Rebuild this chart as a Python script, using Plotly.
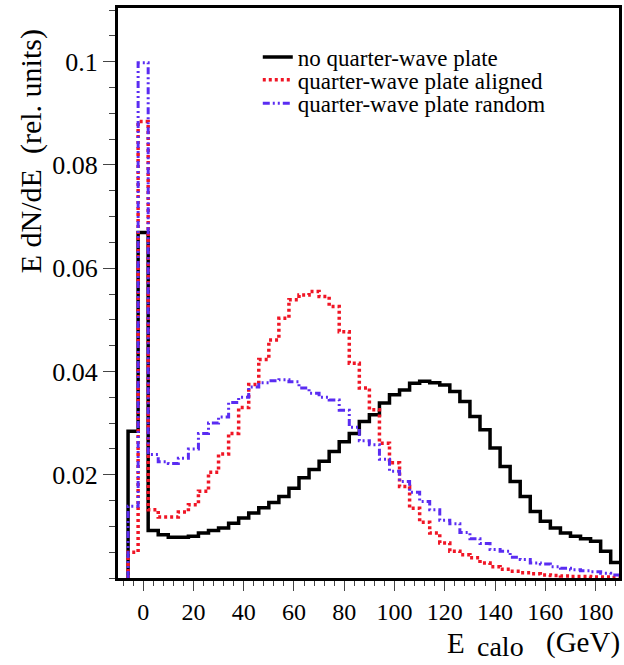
import plotly.graph_objects as go

# bin edges (GeV), 4 GeV wide bins from -6 to 190
bin_edges = list(range(-6, 191, 4))

no_plate = [0.0284, 0.0669, 0.0092, 0.0084, 0.0079, 0.0079, 0.0081, 0.0087, 0.0092, 0.0097,
            0.0106, 0.0116, 0.0126, 0.0136, 0.0146, 0.0158, 0.0174, 0.0194, 0.0210, 0.0226,
            0.0245, 0.0264, 0.0280, 0.0303, 0.0316, 0.0339, 0.0355, 0.0364, 0.0377, 0.0381,
            0.0378, 0.0374, 0.0361, 0.0342, 0.0313, 0.0287, 0.0252, 0.0216, 0.0187, 0.0158,
            0.0129, 0.0110, 0.0097, 0.0087, 0.0081, 0.0076, 0.0071, 0.0052, 0.0030]

plate_aligned = [0.0050, 0.0884, 0.0132, 0.0118, 0.0118, 0.0128, 0.0142, 0.0168, 0.0205, 0.0240,
                 0.0280, 0.0330, 0.0375, 0.0423, 0.0461, 0.0503, 0.0539, 0.0548, 0.0555, 0.0545,
                 0.0526, 0.0477, 0.0416, 0.0368, 0.0326, 0.0261, 0.0223, 0.0177, 0.0135, 0.0108,
                 0.0087, 0.0068, 0.0052, 0.0045, 0.0039, 0.0029, 0.0022, 0.0017, 0.0013, 0.0010,
                 0.0008, 0.0006, 0.0005, 0.0004, 0.0003, 0.0003, 0.0002, 0.0002, 0.0001]

plate_random = [0.0139, 0.0998, 0.0239, 0.0225, 0.0222, 0.0232, 0.0250, 0.0280, 0.0300, 0.0312,
                0.0340, 0.0350, 0.0370, 0.0378, 0.0382, 0.0384, 0.0380, 0.0368, 0.0358, 0.0350,
                0.0345, 0.0325, 0.0292, 0.0266, 0.0258, 0.0230, 0.0207, 0.0187, 0.0166, 0.0148,
                0.0132, 0.0112, 0.0105, 0.0088, 0.0076, 0.0067, 0.0055, 0.0052, 0.0040, 0.0036,
                0.0029, 0.0027, 0.0022, 0.0019, 0.0016, 0.0014, 0.0012, 0.0009, 0.0006]

series_names = ["no quarter-wave plate", "quarter-wave plate aligned", "quarter-wave plate random"]
x_tick_vals = [0, 20, 40, 60, 80, 100, 120, 140, 160, 180]
y_tick_vals = [0.02, 0.04, 0.06, 0.08, 0.1]
y_tick_text = ["0.02", "0.04", "0.06", "0.08", "0.1"]

FONT = "Liberation Serif"


def step_xy(vals):
    xs = [bin_edges[0]] + bin_edges
    ys = [0] + list(vals) + [vals[-1]]
    return xs, ys


fig = go.Figure()
styles = [
    dict(color="black", width=3.5, dash="solid"),
    dict(color="#f01525", width=3.5, dash="3px,3px"),
    dict(color="#5a2cf2", width=3, dash="7px,3px,2px,3px,2px,3px"),
]
legend_ids = ["legend", "legend2", "legend3"]
for name, vals, st, lg in zip(series_names, [no_plate, plate_aligned, plate_random], styles, legend_ids):
    xs, ys = step_xy(vals)
    fig.add_trace(go.Scatter(x=xs, y=ys, mode="lines", name=name, legend=lg,
                             line=dict(shape="hv", **st)))

row_y = [0.914, 0.874, 0.833]
leg_common = dict(x=0.279, xanchor="left", yanchor="middle", bgcolor="rgba(0,0,0,0)",
                  font=dict(size=23, family=FONT), itemwidth=30)

fig.update_layout(
    width=624, height=665,
    margin=dict(l=118, r=2, t=8, b=87),
    paper_bgcolor="white", plot_bgcolor="white",
    font=dict(family=FONT, color="black", size=22),
    showlegend=True,
    legend=dict(y=row_y[0], **leg_common),
    legend2=dict(y=row_y[1], **leg_common),
    legend3=dict(y=row_y[2], **leg_common),
    xaxis=dict(range=[-10, 189.3], showgrid=False, zeroline=False,
               showline=True, linecolor="black", linewidth=3, mirror=True,
               ticks="outside", ticklen=10, tickwidth=1, tickcolor="#444",
               tickvals=x_tick_vals, tickfont=dict(size=24, family=FONT),
               minor=dict(dtick=4, tick0=0, ticks="outside", ticklen=5, tickcolor="#444")),
    yaxis=dict(range=[0, 0.1104], showgrid=False, zeroline=False,
               showline=True, linecolor="black", linewidth=3, mirror=True,
               ticks="outside", ticklen=12, tickwidth=1, tickcolor="#444",
               tickvals=y_tick_vals, ticktext=y_tick_text,
               tickfont=dict(size=26, family=FONT),
               minor=dict(dtick=0.005, tick0=0, ticks="outside", ticklen=6, tickcolor="#444")),
    annotations=[
        dict(text="E", xref="paper", yref="paper",
             x=0.653, y=-0.114, xanchor="left", yanchor="middle", showarrow=False,
             font=dict(size=29, family=FONT)),
        dict(text="calo", xref="paper", yref="paper",
             x=0.712, y=-0.121, xanchor="left", yanchor="middle", showarrow=False,
             font=dict(size=28, family=FONT)),
        dict(text="(GeV)", xref="paper", yref="paper",
             x=1.006, y=-0.114, xanchor="right", yanchor="middle", showarrow=False,
             font=dict(size=29, family=FONT)),
        dict(text="E dN/dE  (rel. units)", xref="paper", yref="paper",
             x=-0.172, y=0.966, xanchor="center", yanchor="top", textangle=-90,
             showarrow=False, font=dict(size=30, family=FONT)),
    ],
)

fig.write_html("out.html", config={"displayModeBar": False},
               post_script="document.body.style.margin='0px';document.body.style.overflow='hidden';")
